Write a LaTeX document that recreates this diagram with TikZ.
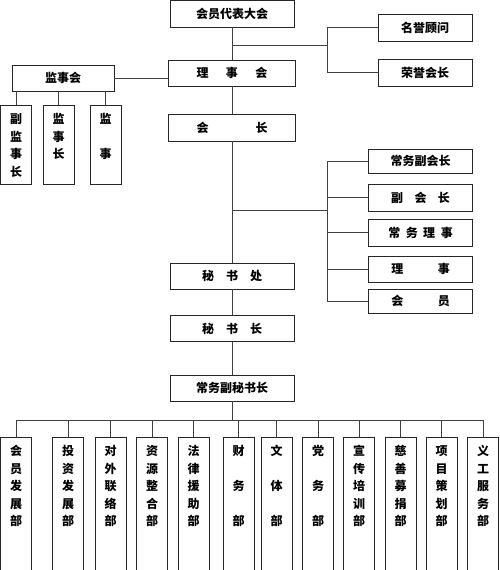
\documentclass[tikz,border=0pt]{standalone}
\usepackage{fontspec}
\setmainfont{Noto Sans CJK SC}

% vertical text column, top aligned
\newcommand\colstack[2]{\parbox[c][#1][t]{16pt}{\fontsize{12}{17.5}\selectfont\bfseries\centering\rule{0pt}{18.5pt}#2}}

\begin{document}
\begin{tikzpicture}[x=1pt,y=-1pt,
  orgbox/.style={draw=black!85, line width=0.9pt, minimum width=124pt, minimum height=26pt,
    inner sep=0pt, font=\fontsize{12}{14}\selectfont\bfseries},
  colbox/.style={draw=black!85, line width=0.9pt, minimum width=31pt, inner sep=0pt},
  link/.style={draw=black!75, line width=0.8pt}]
  \useasboundingbox (0,0) rectangle (500,570);

  % main column
  \node[orgbox, minimum height=27pt] (dahui) at (232,13.5) {会员代表大会\hspace{12pt}};
  \node[orgbox, minimum width=127pt] (lishihui) at (232,73) {理\hspace{17.5pt}事\hspace{17.5pt}会\hspace{17pt}};
  \node[orgbox, minimum width=127pt, minimum height=27pt] (huizhang) at (232,127.5) {会\hspace{47pt}长\hspace{17pt}};
  \node[orgbox] (mishuchu) at (232,276) {秘\hspace{12pt}书\hspace{12pt}处};
  \node[orgbox] (mishuzhang) at (232,328.5) {秘\hspace{12pt}书\hspace{12pt}长};
  \node[orgbox] (cwfmsz) at (232,388) {常务副秘书长};

  % honorary
  \node[orgbox, minimum width=94pt, minimum height=27pt] (mingyu) at (425,27.5) {名誉顾问};
  \node[orgbox, minimum width=94pt, minimum height=27pt] (rongyu) at (425,72.5) {荣誉会长};

  % supervisors
  \node[orgbox, minimum width=102pt] (jianshihui) at (63,78) {监事会};
  \node[colbox] (fjsz) at (16,144.5) {\colstack{79pt}{副\\监\\事\\长}};
  \node[colbox] (jsz) at (58.5,144.5) {\colstack{79pt}{监\\事\\长}};
  \node[colbox] (jianshi) at (105.5,144.5) {\colstack{79pt}{监\\[17.5pt]事}};

  % council members
  \node[orgbox, minimum width=104pt, minimum height=24pt] (cwfhz) at (420.5,161) {常务副会长};
  \node[orgbox, minimum width=104pt, minimum height=27pt] (fhz) at (420.5,197.5) {副\hspace{11.5pt}会\hspace{11.5pt}长};
  \node[orgbox, minimum width=104pt, minimum height=27pt] (cwls) at (420.5,232.5) {常\hspace{5.5pt}务\hspace{5.5pt}理\hspace{5.5pt}事};
  \node[orgbox, minimum width=104pt] (lishi) at (420.5,269) {理\hspace{34.5pt}事};
  \node[orgbox, minimum width=104pt, minimum height=24pt] (huiyuan) at (420.5,301) {会\hspace{34.5pt}员};

  % departments
  \foreach \n/\x/\t in {d1/16/{会\\员\\发\\展\\部}, d2/68/{投\\资\\发\\展\\部},
      d3/110.5/{对\\外\\联\\络\\部}, d4/152/{资\\源\\整\\合\\部},
      d5/193.5/{法\\律\\援\\助\\部}, d6/238.5/{财\\[17.5pt]务\\[17.5pt]部},
      d7/276.5/{文\\[17.5pt]体\\[17.5pt]部}, d8/318/{党\\[17.5pt]务\\[17.5pt]部},
      d9/359/{宣\\传\\培\\训\\部}, d10/400.5/{慈\\善\\募\\捐\\部},
      d11/441.5/{项\\目\\策\\划\\部}, d12/483/{义\\工\\服\\务\\部}}
    \node[colbox] (\n) at (\x,503.5) {\colstack{133pt}{\t}};

  % connectors
  \draw[link] (dahui.south) -- (lishihui.north);
  \draw[link] (lishihui.south) -- (huizhang.north);
  \draw[link] (huizhang.south) -- (mishuchu.north);
  \draw[link] (mishuchu.south) -- (mishuzhang.north);
  \draw[link] (mishuzhang.south) -- (cwfmsz.north);

  \coordinate (hb) at (232,45);
  \coordinate (hj) at (327,45);
  \draw[link] (hb) -- (hj);
  \draw[link] (mingyu.west) -| (hj);
  \draw[link] (rongyu.west) -| (hj);

  \draw[link] (jianshihui.east) -- (jianshihui.east -| lishihui.west);
  \foreach \n in {fjsz,jsz,jianshi}
    \draw[link] (\n.north) -- (\n.north |- jianshihui.south);

  \coordinate (vb) at (232,210);
  \coordinate (vj) at (327,210);
  \draw[link] (vb) -- (vj);
  \foreach \n in {cwfhz,fhz,cwls,lishi,huiyuan}
    \draw[link] (\n.west) -| (vj);

  \coordinate (bus) at (232,420);
  \draw[link] (cwfmsz.south) -- (bus);
  \foreach \n in {d1,d2,d3,d4,d5,d6,d7,d8,d9,d10,d11,d12}
    \draw[link] (\n.north) |- (bus);
\end{tikzpicture}
\end{document}
